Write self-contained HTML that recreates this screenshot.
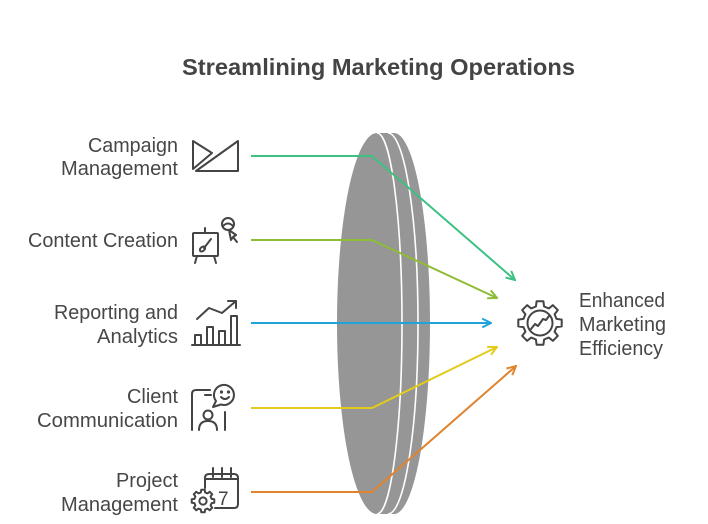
<!DOCTYPE html>
<html><head><meta charset="utf-8"><style>
html,body{margin:0;padding:0;background:#fff;}
svg{display:block;}
text{font-family:"Liberation Sans",Arial,sans-serif;fill:#474747;}
</style></head><body>
<svg width="708" height="524" viewBox="0 0 708 524" xmlns="http://www.w3.org/2000/svg">
<defs>
<marker id="mg" viewBox="0 0 10 10" refX="9" refY="5" markerWidth="11" markerHeight="11" markerUnits="userSpaceOnUse" orient="auto"><path d="M1,1 L9,5 L1,9" fill="none" stroke="#3dc183" stroke-width="1.8"/></marker>
<marker id="ml" viewBox="0 0 10 10" refX="9" refY="5" markerWidth="11" markerHeight="11" markerUnits="userSpaceOnUse" orient="auto"><path d="M1,1 L9,5 L1,9" fill="none" stroke="#8dbc35" stroke-width="1.8"/></marker>
<marker id="mb" viewBox="0 0 10 10" refX="9" refY="5" markerWidth="11" markerHeight="11" markerUnits="userSpaceOnUse" orient="auto"><path d="M1,1 L9,5 L1,9" fill="none" stroke="#1ea4d8" stroke-width="1.8"/></marker>
<marker id="my" viewBox="0 0 10 10" refX="9" refY="5" markerWidth="11" markerHeight="11" markerUnits="userSpaceOnUse" orient="auto"><path d="M1,1 L9,5 L1,9" fill="none" stroke="#e3cb1b" stroke-width="1.8"/></marker>
<marker id="mo" viewBox="0 0 10 10" refX="9" refY="5" markerWidth="11" markerHeight="11" markerUnits="userSpaceOnUse" orient="auto"><path d="M1,1 L9,5 L1,9" fill="none" stroke="#e0842f" stroke-width="1.8"/></marker>
<path id="gear" d="M556.5,318.9 L561.7,319.6 L561.7,326.4 L556.5,327.1 L554.6,331.8 L557.8,335.9 L552.9,340.8 L548.8,337.6 L544.1,339.5 L543.4,344.7 L536.6,344.7 L535.9,339.5 L531.2,337.6 L527.1,340.8 L522.2,335.9 L525.4,331.8 L523.5,327.1 L518.3,326.4 L518.3,319.6 L523.5,318.9 L525.4,314.2 L522.2,310.1 L527.1,305.2 L531.2,308.4 L535.9,306.5 L536.6,301.3 L543.4,301.3 L544.1,306.5 L548.8,308.4 L552.9,305.2 L557.8,310.1 L554.6,314.2 Z"/>
</defs>

<!-- Title -->
<text x="182" y="75" font-size="23" font-weight="bold" textLength="393" lengthAdjust="spacingAndGlyphs" style="fill:#444">Streamlining Marketing Operations</text>

<!-- Lens -->
<path d="M394 133 A36 190.5 0 0 1 394 514 L377 514 L377 133 Z" fill="#969696"/>
<path d="M388 133 A30 190.5 0 0 1 388 514 L377 514 L377 133 Z" fill="#969696"/>
<path d="M388 133 A30 190.5 0 0 1 388 514" fill="none" stroke="#fff" stroke-width="1.6"/>
<path d="M377 133 A40 190.5 0 0 0 377 514 A25 190.5 0 0 0 377 133 Z" fill="#969696"/>
<path d="M377 514 A25 190.5 0 0 0 377 133" fill="none" stroke="#fff" stroke-width="1.6"/>

<!-- Connectors -->
<polyline points="251,156 372,156 515,280" fill="none" stroke="#3dc183" stroke-width="2" marker-end="url(#mg)"/>
<polyline points="251,240 372,240 497,298" fill="none" stroke="#8dbc35" stroke-width="2" marker-end="url(#ml)"/>
<polyline points="251,323 491,323" fill="none" stroke="#1ea4d8" stroke-width="2" marker-end="url(#mb)"/>
<polyline points="251,408 372,408 497,347" fill="none" stroke="#e3cb1b" stroke-width="2" marker-end="url(#my)"/>
<polyline points="251,492 372,492 516,366" fill="none" stroke="#e0842f" stroke-width="2" marker-end="url(#mo)"/>

<!-- Left labels -->
<g font-size="20" text-anchor="end">
<text x="178" y="152" textLength="90" lengthAdjust="spacingAndGlyphs">Campaign</text>
<text x="178" y="175" textLength="117" lengthAdjust="spacingAndGlyphs">Management</text>
<text x="178" y="247" textLength="150" lengthAdjust="spacingAndGlyphs">Content Creation</text>
<text x="178" y="319" textLength="124" lengthAdjust="spacingAndGlyphs">Reporting and</text>
<text x="178" y="343" textLength="81" lengthAdjust="spacingAndGlyphs">Analytics</text>
<text x="178" y="403" textLength="51" lengthAdjust="spacingAndGlyphs">Client</text>
<text x="178" y="427" textLength="141" lengthAdjust="spacingAndGlyphs">Communication</text>
<text x="178" y="487" textLength="62" lengthAdjust="spacingAndGlyphs">Project</text>
<text x="178" y="511" textLength="117" lengthAdjust="spacingAndGlyphs">Management</text>
</g>

<!-- Right label -->
<g font-size="20">
<text x="579" y="307" textLength="86" lengthAdjust="spacingAndGlyphs">Enhanced</text>
<text x="579" y="331" textLength="87" lengthAdjust="spacingAndGlyphs">Marketing</text>
<text x="579" y="355" textLength="84" lengthAdjust="spacingAndGlyphs">Efficiency</text>
</g>

<!-- Icons -->
<g fill="none" stroke="#444" stroke-width="2" stroke-linecap="round" stroke-linejoin="round">
  <!-- campaign -->
  <path d="M193,141 L212,153 L193,169 Z"/>
  <path d="M238,141 L238,171 L196,171 Z"/>
  <!-- content creation -->
  <rect x="193" y="233" width="25" height="23" rx="1"/>
  <path d="M205,228 L205,233 M197,256 L195,263 M214,256 L216,263"/>
  <path d="M211,239 L204,248"/>
  <ellipse cx="202.5" cy="249" rx="3" ry="2" transform="rotate(-40 202.5 249)"/>
  <circle cx="228" cy="224" r="6"/>
  <path d="M223,226 Q228,221 233,226"/>
  <path d="M229,230 L231,240 L233,237 L237,242 M233,237 L236,235 Z"/>
  <path d="M229,230 L236,235"/>
  <!-- chart -->
  <path d="M192,345 L240,345"/>
  <path d="M195,345 L195,335 L201,335 L201,345"/>
  <path d="M207,345 L207,327 L213,327 L213,345"/>
  <path d="M219,345 L219,331 L225,331 L225,345"/>
  <path d="M231,345 L231,316 L237,316 L237,345"/>
  <path d="M197,319 L209,308 L222,313 L236,301"/>
  <path d="M228,301 L236,301 L236,308"/>
  <!-- client communication -->
  <path d="M192,430 L192,394 Q192,390 196,390 L210,390"/>
  <path d="M205,395 L211,395"/>
  <path d="M225,412 L225,430"/>
  <circle cx="208" cy="415" r="4.5"/>
  <path d="M199,430 Q199,421 208,421 Q217,421 217,430"/>
  <path d="M216,401 A10 10 0 1 1 221,404.5 L213,407 Z"/>
  <circle cx="221.5" cy="392" r="0.6" fill="#444"/>
  <circle cx="228.5" cy="392" r="0.6" fill="#444"/>
  <path d="M221,397 Q225,401 229,397"/>
  <!-- project management -->
  <path d="M205,488 L205,478 Q205,474 209,474 L234,474 Q238,474 238,478 L238,504 Q238,508 234,508 L215,508"/>
  <path d="M205,479 L238,479"/>
  <path d="M213,468 L213,477 M222,468 L222,477 M231,468 L231,477"/>
</g>
<text x="218" y="505" font-size="19" style="fill:#444">7</text>
<g transform="translate(203,501) scale(0.52) translate(-540,-323)" fill="#fff" stroke="#444" stroke-width="3.8" stroke-linejoin="round">
  <use href="#gear"/>
  <circle cx="540" cy="323" r="7" fill="none"/>
</g>

<!-- big gear -->
<g fill="none" stroke="#444" stroke-width="2" stroke-linejoin="round" stroke-linecap="round">
  <use href="#gear"/>
  <circle cx="540" cy="323" r="12.5"/>
  <path d="M531,329 L535,324 L538,326 L543,319 L546,320 L549,316"/>
</g>
</svg>
</body></html>
